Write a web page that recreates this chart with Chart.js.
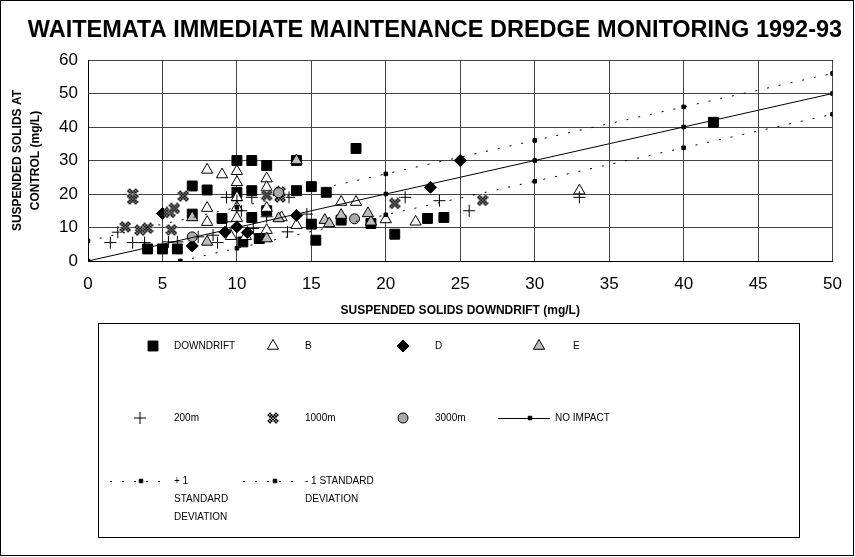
<!DOCTYPE html>
<html>
<head>
<meta charset="utf-8">
<script src="https://cdn.jsdelivr.net/npm/chart.js@4.4.1/dist/chart.umd.min.js"></script>
<style>
  body { margin: 0; background: #fff; }
  canvas { display: block; }
</style>
</head>
<body>
<canvas id="dredge" width="855" height="557"></canvas>
<script>
// readings, [downdrift, control] in mg/L
const downdrift = [[10,30],[11,30],[12,28.5],[14,30],[18,33.6],[7,22.4],[8,21.2],[10,20.5],[11,21],[14,21],
  [15,22.2],[16,20.5],[7,14],[9,12.7],[11,13],[12,15],[15,11],[15.3,6.2],[11.5,6.7],[10.4,5.7],
  [17,12.2],[19,11.2],[20.6,8],[22.8,12.7],[23.9,13],[42,41.4],[4,3.6],[5,3.6],[6,3.6]];
const siteB = [[8,27.2],[9,25.8],[10,26.8],[12,24.6],[12,22],[8,15.8],[10,16],[8,11.6],[10,12.8],[13,13],
  [12,9.2],[10.6,7.4],[9.6,7.4],[17,17.6],[18,17.6],[14,10.7],[20,12.4],[22,11.7],[33,21],[10,23.5],
  [10,19],[12,15.8]];
const siteD = [[5,14.2],[14,13.6],[10,10.2],[9.2,8.6],[7,4.5],[25,30],[23,22],[10.7,8.5]];
const siteE = [[14,30],[12.8,20.5],[15.9,12.2],[17,13.7],[19,11.7],[16.2,11.2],[12,6.7],[8,5.7],
  [12.8,12.7],[18.8,14.2],[7,13]];
const at200m = [[1.5,5.5],[2,8.6],[3,5.5],[3.8,5.5],[5.4,5.7],[6,5.7],[7.4,7.2],[8.4,7.7],[8.7,5.5],
  [9.3,11.7],[9.3,19],[10,18],[10.3,15],[11,19],[12,13.2],[13.4,8.7],[14.7,14],[13.5,19],[11.1,9.7],
  [21.3,19],[23.6,18],[25.6,15],[33,19]];
const at1000m = [[3,20],[3,18.5],[2.5,10.2],[3.5,9.2],[4,9.8],[5.5,14.5],[5.6,9.3],[6.4,19.4],[5.8,15.7],
  [12,19.6],[12.9,19.1],[12.9,20.6],[20.6,17.2],[26.5,18.1]];
const at3000m = [[17.9,12.6],[7,7.2],[12.8,20.4]];
const noImpact = [[0,0],[10,10],[20,20],[30,30],[40,40],[50,50]];
const plusOneSD = [[0,6],[10,16],[20,26],[30,36],[40,46],[50,56]];
const minusOneSD = [[6.2,0],[10,3.8],[20,13.8],[30,23.8],[40,33.8],[50,43.8]];

const xTicks = [0,5,10,15,20,25,30,35,40,45,50];
const yTicks = [0,10,20,30,40,50,60];

const FONT = '"Liberation Sans", Arial, sans-serif';
const toXY = arr => arr.map(p => ({ x: p[0], y: p[1] }));

// cross hatched X used for the 1000m site
function hatchedX() {
  const c = document.createElement('canvas');
  c.width = 12; c.height = 12;
  const g = c.getContext('2d');
  g.strokeStyle = '#000';
  g.lineWidth = 4.5;
  g.beginPath();
  g.moveTo(1.5, 1.5); g.lineTo(10.5, 10.5);
  g.moveTo(10.5, 1.5); g.lineTo(1.5, 10.5);
  g.stroke();
  g.strokeStyle = 'rgba(255,255,255,0.55)';
  g.lineWidth = 0.8;
  for (let i = -12; i < 12; i += 3) {
    g.beginPath(); g.moveTo(i, 0); g.lineTo(i + 12, 12); g.stroke();
    g.beginPath(); g.moveTo(i + 12, 0); g.lineTo(i, 12); g.stroke();
  }
  return c;
}
const xMark = hatchedX();

const dots = (label, pts, style, radius, fill, order, extra) => Object.assign({
  label, data: toXY(pts), pointStyle: style, pointRadius: radius,
  backgroundColor: fill, borderColor: '#000', borderWidth: 1, order
}, extra || {});

const datasets = [
  dots('DOWNDRIFT', downdrift, 'rect', 7, '#000', 10),
  dots('B', siteB, 'triangle', 6.5, '#fff', 9),
  dots('D', siteD, 'rectRot', 6, '#000', 8),
  dots('E', siteE, 'triangle', 6.5, '#bdbdbd', 7),
  dots('200m', at200m, 'cross', 6, '#000', 6),
  dots('1000m', at1000m, xMark, 6, '#333', 5),
  dots('3000m', at3000m, 'circle', 5, '#aaa', 4),
  dots('NO IMPACT', noImpact, 'rect', 2.5, '#000', 3, { showLine: true, borderWidth: 1 }),
  dots('+ 1 STANDARD DEVIATION', plusOneSD, 'rect', 2.5, '#000', 2, { showLine: true, borderDash: [2, 10] }),
  dots('- 1 STANDARD DEVIATION', minusOneSD, 'rect', 2.5, '#000', 1, { showLine: true, borderDash: [2, 10] })
];

// legend layout: marker x, text x, row y
const legendRows = [346, 418, 481];
const legendItems = [
  { i: 0, mx: 153, tx: 174, row: 0 },
  { i: 1, mx: 273, tx: 305, row: 0 },
  { i: 2, mx: 403, tx: 435, row: 0 },
  { i: 3, mx: 539, tx: 573, row: 0 },
  { i: 4, mx: 140, tx: 174, row: 1 },
  { i: 5, mx: 273, tx: 305, row: 1 },
  { i: 6, mx: 403, tx: 435, row: 1 },
  { i: 7, mx: 530, tx: 555, row: 1, line: [498, 550], text: ['NO IMPACT'] },
  { i: 8, mx: 141, tx: 174, row: 2, line: [110, 165], text: ['+ 1', 'STANDARD', 'DEVIATION'] },
  { i: 9, mx: 275, tx: 305, row: 2, line: [243, 298], text: ['- 1 STANDARD', 'DEVIATION'] }
];

function marker(ctx, ds, x, y) {
  ctx.save();
  ctx.fillStyle = ds.backgroundColor;
  ctx.strokeStyle = '#000';
  ctx.lineWidth = 1;
  ctx.setLineDash([]);
  Chart.helpers.drawPoint(ctx, { pointStyle: ds.pointStyle, radius: ds.pointRadius, rotation: 0, borderWidth: 1 }, x, y);
  ctx.restore();
}

const decor = {
  id: 'decor',
  beforeDraw(chart) {
    const ctx = chart.ctx;
    ctx.save();
    ctx.fillStyle = '#fff';
    ctx.fillRect(0, 0, chart.width, chart.height);
    ctx.restore();
  },
  afterDraw(chart) {
    const ctx = chart.ctx;
    ctx.save();
    ctx.strokeStyle = '#000';
    ctx.lineWidth = 1;
    ctx.strokeRect(0.5, 0.5, chart.width - 2, chart.height - 2);
    ctx.fillStyle = '#000';
    ctx.textAlign = 'center';
    ctx.textBaseline = 'middle';
    ctx.font = 'bold 23.5px ' + FONT;
    ctx.fillText('WAITEMATA IMMEDIATE MAINTENANCE DREDGE MONITORING 1992-93', 435, 31);

    ctx.strokeRect(98.5, 323.5, 701, 214);
    ctx.font = '10px ' + FONT;
    ctx.textAlign = 'left';
    legendItems.forEach(it => {
      const ds = chart.data.datasets[it.i];
      const y = legendRows[it.row];
      if (it.line) {
        ctx.save();
        ctx.setLineDash(ds.borderDash || []);
        ctx.beginPath();
        ctx.moveTo(it.line[0], y + 0.5);
        ctx.lineTo(it.line[1], y + 0.5);
        ctx.stroke();
        ctx.restore();
      }
      marker(ctx, ds, it.mx, y);
      const lines = it.text || [ds.label];
      lines.forEach((t, k) => ctx.fillText(t, it.tx, y + k * 18));
    });
    ctx.restore();
  }
};

new Chart(document.getElementById('dredge'), {
  type: 'scatter',
  data: { datasets },
  options: {
    responsive: false,
    animation: false,
    layout: { padding: { left: 0, top: 60, right: 18, bottom: 236 } },
    plugins: { legend: { display: false }, tooltip: { enabled: false } },
    scales: {
      x: {
        type: 'linear', min: 0, max: 50,
        afterBuildTicks: s => { s.ticks = xTicks.map(v => ({ value: v })); },
        afterFit: s => { s.height = 60; },
        ticks: { padding: 13, color: '#000', font: { family: FONT, size: 17 } },
        grid: { color: '#444', drawTicks: false },
        border: { color: '#000' },
        title: {
          display: true, text: 'SUSPENDED SOLIDS DOWNDRIFT (mg/L)', color: '#000',
          font: { family: FONT, size: 12, weight: 'bold' }, padding: { top: 0, bottom: 3 }
        }
      },
      y: {
        type: 'linear', min: 0, max: 60,
        afterBuildTicks: s => { s.ticks = yTicks.map(v => ({ value: v })); },
        afterFit: s => { s.width = 88; },
        ticks: { padding: 10, color: '#000', font: { family: FONT, size: 17 } },
        grid: { color: '#444', drawTicks: false },
        border: { color: '#000' },
        title: {
          display: true, text: ['SUSPENDED SOLIDS AT', 'CONTROL (mg/L)'], color: '#000',
          font: { family: FONT, size: 12, weight: 'bold', lineHeight: 1.5 }, padding: { top: 9, bottom: 0 }
        }
      }
    }
  },
  plugins: [decor]
});
</script>
</body>
</html>
